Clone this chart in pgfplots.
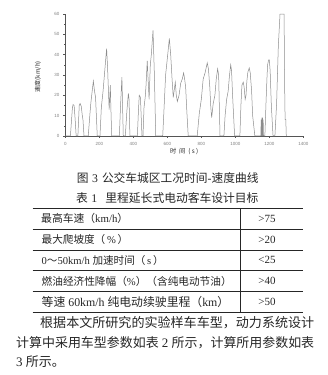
\documentclass[border=0pt]{standalone}
\usepackage{pgfplots}
\pgfplotsset{compat=1.18}
\usepackage{graphicx}
\usepackage{fontspec}
\setmainfont{Liberation Serif}
\newfontfamily\cjk{Noto Sans CJK SC}
\newfontfamily\axfont{Liberation Sans}
\definecolor{curve}{HTML}{8C8C8C}
\definecolor{axisgray}{HTML}{555555}
\definecolor{ink}{HTML}{262626}
% set a line of text at a given overall width
\newcommand{\fitw}[2]{\resizebox{#1}{!}{#2}}

\begin{document}
\begin{tikzpicture}[x=1pt,y=1pt]
\fill[white] (0,0) rectangle (328,375);

% driving cycle: speed (km/h) over time (s)
\begin{axis}[
  at={(65.3pt,239pt)}, anchor=south west,
  width=238pt, height=122pt, scale only axis,
  xmin=0, xmax=1400, ymin=0, ymax=60,
  enlargelimits=false, clip=false,
  axis lines=left,
  axis line style={-, draw=axisgray, line width=0.5pt},
  xtick={0,200,...,1400}, ytick={0,10,...,60},
  minor x tick num=1, minor y tick num=1,
  tick align=outside,
  major tick length=2pt, minor tick length=1.2pt,
  tick style={draw=axisgray, line width=0.4pt},
  /pgf/number format/assume math mode=true,
  /pgf/number format/1000 sep={},
  ticklabel style={font=\axfont\fontsize{4.5}{5}\selectfont, text=gray},
  xticklabel style={yshift=-0.5pt},
  yticklabel style={xshift=-0.5pt},
]
\addplot[curve, line width=0.5pt] coordinates {
 (0,0) (30,0) (42,14) (46,15.5) (52,15) (58,8) (64,0)
 (74,0) (82,15) (87,16) (94,14.5) (100,10) (104,8) (110,0)
 (135,0) (146,12) (150,16) (158,22) (165,27) (172,22) (178,19) (188,0)
 (204,0) (212,14) (222,22) (243,43) (248,35) (258,13) (265,25) (268,14) (273,0)
 (318,0) (325,15) (333,29) (341,0)
 (353,0) (362,12) (371,21) (375,18) (380,0)
 (424,0) (430,12) (435,20) (442,19) (451,0)
 (457,0) (463,14) (470,19) (475,25) (482,37) (487,28) (493,18) (500,35) (506,40) (516,52) (524,30) (532,0)
 (573,0) (580,12) (590,30) (600,38) (612,48) (620,40) (628,28) (635,19) (647,26.5) (653,20) (659,17) (669,20) (679,26) (688,28) (696,31) (702,28) (708,24) (715,12) (723,0)
 (776,0) (788,11) (800,18) (811,28) (822,31) (835,36) (842,33) (850,24) (856,14) (861,9) (870,16) (880,20) (888,28) (896,33) (902,30) (906,15) (910,0)
 (933,0) (940,10) (949,18) (958,22) (966,30) (973,35) (978,32) (984,20) (990,10) (996,0)
 (1027,0) (1033,15) (1039,25) (1047,26.5) (1052,24) (1058,18) (1063,20) (1068,27) (1074,31.5) (1082,33.5) (1088,31) (1096,22) (1102,10) (1115,0)
 (1150,0) (1152,8) (1154,0) (1156,9) (1158,0) (1160,9) (1162,0) (1164,8) (1166,0)
 (1174,0) (1180,15) (1186,28) (1190,35) (1196,37.5) (1200,37.5) (1205,32) (1212,15) (1222,0)
 (1233,0) (1243,16) (1253,44) (1263,60) (1287,60) (1290,26) (1293,8) (1297,8) (1300,0)
};
\end{axis}

% axis titles
\node[ink, rotate=90, inner sep=0, font=\fontsize{6}{6}\selectfont] at (38,298.3) {\cjk 速度(km/h)};
\node[ink, inner sep=0, anchor=west, font=\fontsize{6}{6}\selectfont] at (170,223) {\fitw{28pt}{\cjk 时\ \ 间\ \ (\ s\ )}};

% captions
\node[ink, inner sep=0, anchor=west, font=\fontsize{11.75}{12}\selectfont] at (76.7,197)
  {\fitw{181.6pt}{{\cjk 图}\hspace{3.5pt}3\hspace{4pt}{\cjk 公交车城区工况时间}-{\cjk 速度曲线}}};
\node[ink, inner sep=0, anchor=west, font=\fontsize{11.75}{12}\selectfont] at (76,176.5)
  {\fitw{182.3pt}{{\cjk 表}\hspace{3.5pt}1\hspace{8pt}{\cjk 里程延长式电动客车设计目标}}};

% table rules
\draw[ink, line width=0.7pt] (32.7,166.7) -- (302.7,166.7);
\draw[ink, line width=0.5pt] (32.7,145.7) -- (302.7,145.7);
\draw[ink, line width=0.5pt] (32.7,125) -- (302.7,125);
\draw[ink, line width=0.5pt] (32.7,104.3) -- (302.7,104.3);
\draw[ink, line width=0.5pt] (32.7,83.7) -- (302.7,83.7);
\draw[ink, line width=0.7pt] (32.7,63) -- (302.7,63);
\draw[ink, line width=0.5pt] (240,166.7) -- (240,63);

% table body
\begin{scope}[every node/.style={ink, inner sep=0, font=\fontsize{11}{12}\selectfont}]
\node[anchor=west] at (41,156.2) {\fitw{87pt}{{\cjk 最高车速（}km/h{\cjk ）}}};
\node[anchor=west] at (41.5,135.3) {\fitw{86.6pt}{{\cjk 最大爬坡度（}\,\%\,{\cjk ）}}};
\node[anchor=west] at (41.5,114.6) {\fitw{122pt}{0{\cjk ～}50km/h {\cjk 加速时间（}\,s\,{\cjk ）}}};
\node[anchor=west] at (41.5,94) {\fitw{190pt}{{\cjk 燃油经济性降幅（}\%{\cjk ）（含纯电动节油）}}};
\node[anchor=west] at (41.5,73.3) {\fitw{187.6pt}{{\cjk 等速} 60km/h {\cjk 纯电动续驶里程（}km{\cjk ）}}};
\node at (267,156.2) {>75};
\node at (267,135.3) {>20};
\node at (267,114.6) {<25};
\node at (267,94) {>40};
\node at (267,73.3) {>50};
\end{scope}

% body text
\begin{scope}[every node/.style={ink, inner sep=0, anchor=west, font=\fontsize{13}{14}\selectfont}]
\node at (40,52) {\fitw{274pt}{\cjk 根据本文所研究的实验样车车型，动力系统设计}};
\node at (16,32.5) {\fitw{298pt}{{\cjk 计算中采用车型参数如表} 2 {\cjk 所示，计算所用参数如表}}};
\node at (16,13.5) {3 {\cjk 所示。}};
\end{scope}
\end{tikzpicture}
\end{document}
